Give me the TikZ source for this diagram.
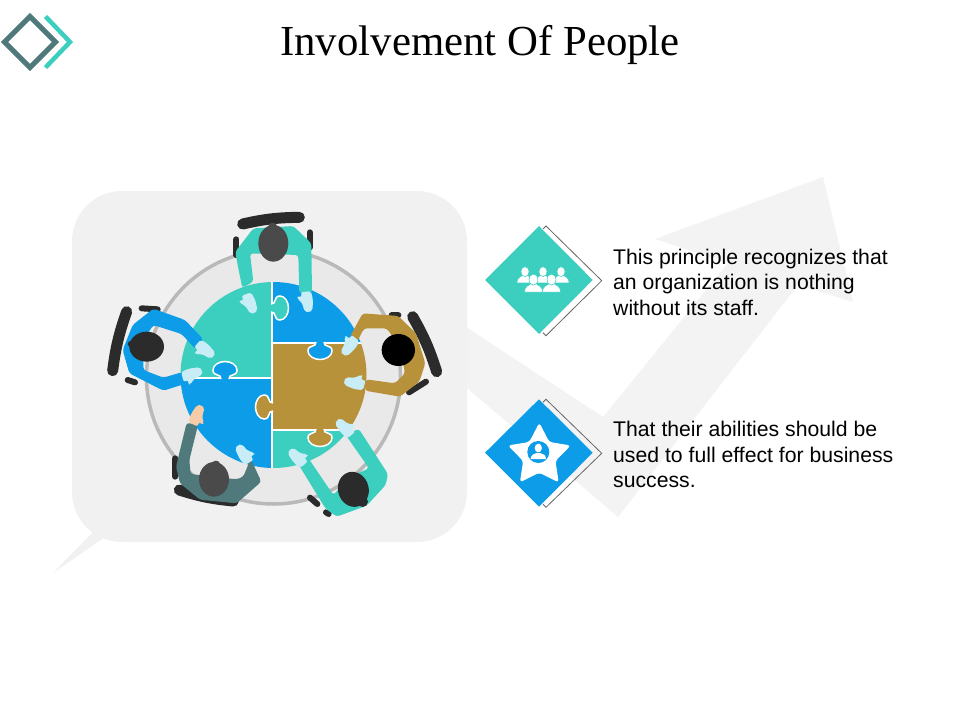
\documentclass[tikz,border=0pt]{standalone}
\usepackage{fontspec}
\setmainfont{Liberation Sans}
\newfontfamily\titlefont{Liberation Serif}
\definecolor{teal1}{HTML}{3CCFBF}
\definecolor{blue1}{HTML}{0D9CE8}
\definecolor{brown1}{HTML}{B8923A}
\definecolor{slate1}{HTML}{50797B}
\definecolor{bgpale}{HTML}{F1F1F1}
\definecolor{arrowpale}{HTML}{F3F3F3}
\definecolor{tablein}{HTML}{E9E9E9}
\definecolor{ringc}{HTML}{B9B9B9}
\definecolor{darkc}{HTML}{2B2B2B}
\definecolor{headc}{HTML}{4A4A4A}
\definecolor{glove}{HTML}{C9EDF6}
\definecolor{skin}{HTML}{F6CBA8}
\tikzset{
  body text/.style={anchor=north west,inner sep=0pt,align=left,font=\fontsize{21.2}{25.5}\selectfont,text=black},
  seam/.style={draw=white,line width=1.5pt},
  outline/.style={draw=black!60,line width=.8pt,line join=miter},
  armrest/.style={draw=darkc,line width=6pt,line cap=round},
  chairback/.style={draw=darkc,line width=11pt,line cap=round},
  limb/.style={rounded corners=3pt}
}
\newcommand{\knob}[4]{\filldraw[fill=#4,seam,shift={(#1,#2)},rotate=#3]
  (-1,-4) .. controls (5,-3.5) and (1,-12) .. (8,-12) .. controls (13,-12) and (16.5,-6) .. (16.5,0)
  .. controls (16.5,6) and (13,12) .. (8,12) .. controls (1,12) and (5,3.5) .. (-1,4);}
\newcommand{\hand}[4]{\fill[#4,shift={(#1,#2)},rotate=#3,rounded corners=2pt]
  (-15,-3) -- (15,-3) -- (19,22) -- (15,54) -- (3,60) -- (-9,56) -- (-15,28) -- (-28,16) -- (-26,8) -- (-14,12) -- cycle;}
\newcommand{\ovl}[6]{\fill[#6,rotate around={#5:(#1,#2)}] (#1,#2) ellipse [x radius=#3,y radius=#4];}
\newcommand{\bust}[4]{\begin{scope}[shift={(#1,#2)},scale=#3]
  \filldraw[fill=white,draw=#4,line width=.5pt] (-2.4,3.2) .. controls (-2.4,1.6) and (-1.2,1.5) .. (-.6,.9) -- (.6,.9) .. controls (1.2,1.5) and (2.4,1.6) .. (2.4,3.2) -- cycle;
  \filldraw[fill=white,draw=#4,line width=.5pt] (0,-.1) ellipse [x radius=1.2,y radius=1.45];
  \end{scope}}
\begin{document}
\begin{tikzpicture}[x=1pt,y=-1pt]
\useasboundingbox (0,0) rectangle (960,720);
% background arrow and speech box
\fill[arrowpale] (460,323) -- (603,417) -- (728,263) -- (655,239) -- (823,177) -- (853,302) -- (798,285) -- (618,517) -- (460,382) -- cycle;
\fill[bgpale] (53,573) -- (95,530) -- (105,537) -- cycle;
\fill[bgpale,rounded corners=50pt] (72,191) rectangle (467,542);
% logo
\draw[slate1,line width=5pt,line join=miter] (4.5,42) -- (30,16.5) -- (55.5,42) -- (30,67.5) -- cycle;
\draw[teal1,line width=4.5pt,line join=miter] (45.5,16.5) -- (70,42) -- (45.5,67.5);
% title
\node[inner sep=0pt,font=\titlefont\fontsize{42.8}{46}\selectfont] (title) at (480,45) {Involvement Of People};
% table
\filldraw[fill=tablein,draw=ringc,line width=3.5pt] (273.5,377) circle [radius=127];
\begin{scope}
\clip (273.5,375) circle [radius=93];
\fill[teal1] (180,281) rectangle (272,378);
\fill[blue1] (272,281) rectangle (368,343);
\fill[blue1] (180,378) rectangle (272,469);
\fill[teal1] (272,430) rectangle (368,469);
\fill[brown1] (272,343) rectangle (368,430);
\draw[seam] (272,281) -- (272,469);
\draw[seam] (180,378) -- (272,378);
\draw[seam] (272,343) -- (368,343);
\draw[seam] (272,430) -- (368,430);
\end{scope}
\knob{272}{308}{0}{teal1}
\knob{225}{378}{90}{blue1}
\knob{320}{343}{-90}{blue1}
\knob{272}{407}{180}{brown1}
\knob{320}{430}{-90}{brown1}
% people, in a 3x frame
\begin{scope}[xshift=90pt,yshift=-200pt,x=1pt/3,y=-1pt/3]
% top person
\draw[chairback] (458,72) to[bend left=6] (628,52);
\draw[armrest] (439,118) -- (439,165);
\draw[armrest] (660,97) -- (660,142);
\fill[teal1,limb] (436,155) -- (490,85) -- (610,78) -- (664,130) -- (666,280) -- (628,280) -- (625,165) -- (480,160) -- (490,245) -- (457,264) -- (442,190) -- cycle;
\ovl{548}{88}{15}{20}{0}{headc}
\ovl{550}{130}{45}{55}{0}{headc}
\hand{470}{285}{20}{glove}
\hand{648}{278}{5}{glove}
% right person
\draw[chairback] (968,350) to[bend left=6] (1040,515);
\draw[armrest] (905,346) -- (925,346);
\draw[armrest] (957,577) -- (1008,545);
\fill[brown1,limb] (780,410) -- (818,340) -- (925,348) -- (978,400) -- (1006,490) -- (988,545) -- (930,590) -- (825,572) -- (828,538) -- (915,550) -- (945,520) -- (930,440) -- (890,385) -- (822,385) -- (800,428) -- cycle;
\ovl{925}{450}{50}{48}{0}{black}
\hand{795}{417}{-40}{glove}
\hand{820}{555}{-105}{glove}
% lower right person
\draw[armrest] (660,893) -- (682,912);
\draw[armrest] (708,937) -- (716,942);
\fill[teal1,limb] (768,706) -- (806,686) -- (894,822) -- (887,855) -- (830,917) -- (740,950) -- (706,925) -- (626,794) -- (652,770) -- (730,885) -- (780,830) -- (837,805) -- cycle;
\ovl{790}{868}{46}{53}{15}{darkc}
\ovl{818}{905}{16}{16}{0}{darkc}
\hand{782}{703}{-139}{glove}
\hand{640}{792}{-139}{glove}
% lower left person
\draw[chairback] (268,870) to[bend right=6] (430,903);
\draw[armrest] (256,775) -- (256,830);
\fill[slate1,limb] (290,668) -- (324,675) -- (298,780) -- (302,822) -- (440,838) -- (460,830) -- (482,776) -- (514,845) -- (440,910) -- (330,899) -- (270,850) -- (258,800) -- cycle;
\ovl{372}{838}{45}{52}{0}{headc}
\ovl{378}{792}{12}{10}{0}{headc}
\hand{310}{670}{153}{skin}
\hand{476}{785}{-149}{glove}
% left person
\draw[chairback] (110,335) to[bend right=6] (68,512);
\draw[armrest] (155,325) -- (203,328);
\draw[armrest] (113,540) -- (135,547);
\fill[blue1,limb] (318,449) -- (340,418) -- (285,360) -- (190,326) -- (128,375) -- (98,450) -- (118,520) -- (220,572) -- (290,550) -- (278,516) -- (220,533) -- (160,510) -- (160,420) -- (190,375) -- (275,402) -- cycle;
\ovl{170}{440}{52}{45}{0}{darkc}
\ovl{125}{432}{12}{10}{0}{darkc}
\hand{325}{432}{48}{glove}
\hand{280}{530}{105}{glove}
\end{scope}
% diamond 1
\fill[teal1] (485,280) -- (539,226) -- (592.7,280) -- (539,334) -- cycle;
\draw[outline] (543,229) -- (546,226) -- (601.7,280.7) -- (546,335.7) -- (543,332.7);
\bust{525}{272}{3.4}{teal1}
\bust{543}{272}{3.4}{teal1}
\bust{561}{272}{3.4}{teal1}
\bust{533.5}{280}{3.8}{teal1}
\bust{551.5}{280}{3.8}{teal1}
% diamond 2
\fill[blue1] (485,452.7) -- (539,399.3) -- (592.7,452.7) -- (539,506.7) -- cycle;
\draw[outline] (543,402.3) -- (546,399.3) -- (601.7,453.3) -- (546,507.3) -- (543,504.3);
\fill[white,rounded corners=3pt,shift={(539.3,455.7)}] (-90:33) -- (-54:17) -- (-18:33) -- (18:17) -- (54:33) -- (90:17) -- (126:33) -- (162:17) -- (198:33) -- (234:17) -- cycle;
\fill[blue1] (538.3,452) circle [radius=11];
\fill[white] (538.3,448) ellipse [x radius=3.6,y radius=4.4];
\fill[white] (530.5,459) .. controls (531,454) and (535,454) .. (536.5,453) -- (540,453) .. controls (542,454) and (546,454) .. (546,459) -- cycle;
% texts
\node[body text] (t1) at (613,248.5) {This principle recognizes that\\an organization is nothing\\without its staff.};
\node[body text] (t2) at (613,421) {That their abilities should be\\used to full effect for business\\success.};
\end{tikzpicture}
\end{document}
